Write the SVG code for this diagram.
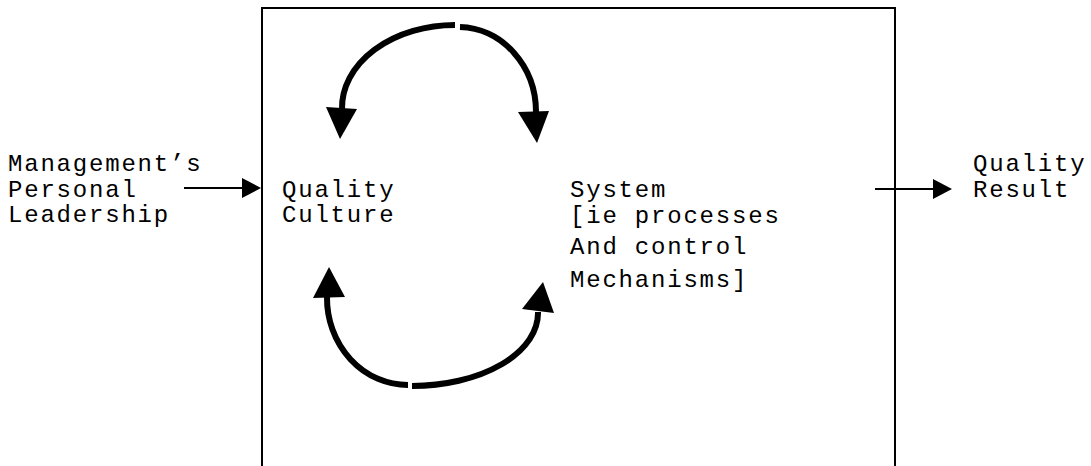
<svg xmlns="http://www.w3.org/2000/svg" width="1091" height="466" viewBox="0 0 1091 466">
  <defs>
    <style>
      .label { font-family: "Liberation Mono", "Courier New", monospace; font-size: 24px; letter-spacing: 1.8px; fill: #000; }
      .frame { fill: none; stroke: #000; stroke-width: 2; }
      .thin { fill: none; stroke: #000; stroke-width: 2; }
      .loop { fill: none; stroke: #000; stroke-width: 6; }
      .head { fill: #000; stroke: none; }
    </style>
  </defs>

  <rect width="1091" height="466" fill="#fff"/>

  <!-- enclosing organisation frame, open at the bottom -->
  <g id="frame">
    <path class="frame" d="M262,470 L262,8 L895,8 L895,470"/>
  </g>

  <g id="leadership">
    <text class="label" x="8" y="171">Management’s</text>
    <text class="label" x="8" y="197">Personal</text>
    <text class="label" x="8" y="222">Leadership</text>
  </g>

  <g id="culture">
    <text class="label" x="282" y="197">Quality</text>
    <text class="label" x="282" y="222">Culture</text>
  </g>

  <g id="system">
    <text class="label" x="570" y="197">System</text>
    <text class="label" x="570" y="223">[ie processes</text>
    <text class="label" x="570" y="254">And control</text>
    <text class="label" x="570" y="287">Mechanisms]</text>
  </g>

  <g id="result">
    <text class="label" x="973" y="171">Quality</text>
    <text class="label" x="973" y="197">Result</text>
  </g>

  <g id="connectors">
    <!-- input and output arrows -->
    <line class="thin" x1="184" y1="188" x2="243" y2="188"/>
    <polygon class="head" points="242,178 261,188 242,198"/>
    <line class="thin" x1="875" y1="189" x2="934" y2="189"/>
    <polygon class="head" points="933,179 952,189 933,199"/>

    <!-- upper loop: two arcs meeting at the top -->
    <path class="loop" d="M455,25 A113,83 0 0 0 342,109"/>
    <polygon class="head" points="326,107 357,109 340,139"/>
    <path class="loop" d="M460,27 A78,85 0 0 1 536,112"/>
    <polygon class="head" points="518,112 549,111 537,143"/>

    <!-- lower loop: two arcs meeting at the bottom -->
    <path class="loop" d="M327,297 A81,87 0 0 0 408,385"/>
    <polygon class="head" points="313,298 345,297 329,267"/>
    <path class="loop" d="M412,386 A126,73 0 0 0 538,312"/>
    <polygon class="head" points="522,309 554,313 543,282"/>
  </g>
</svg>
